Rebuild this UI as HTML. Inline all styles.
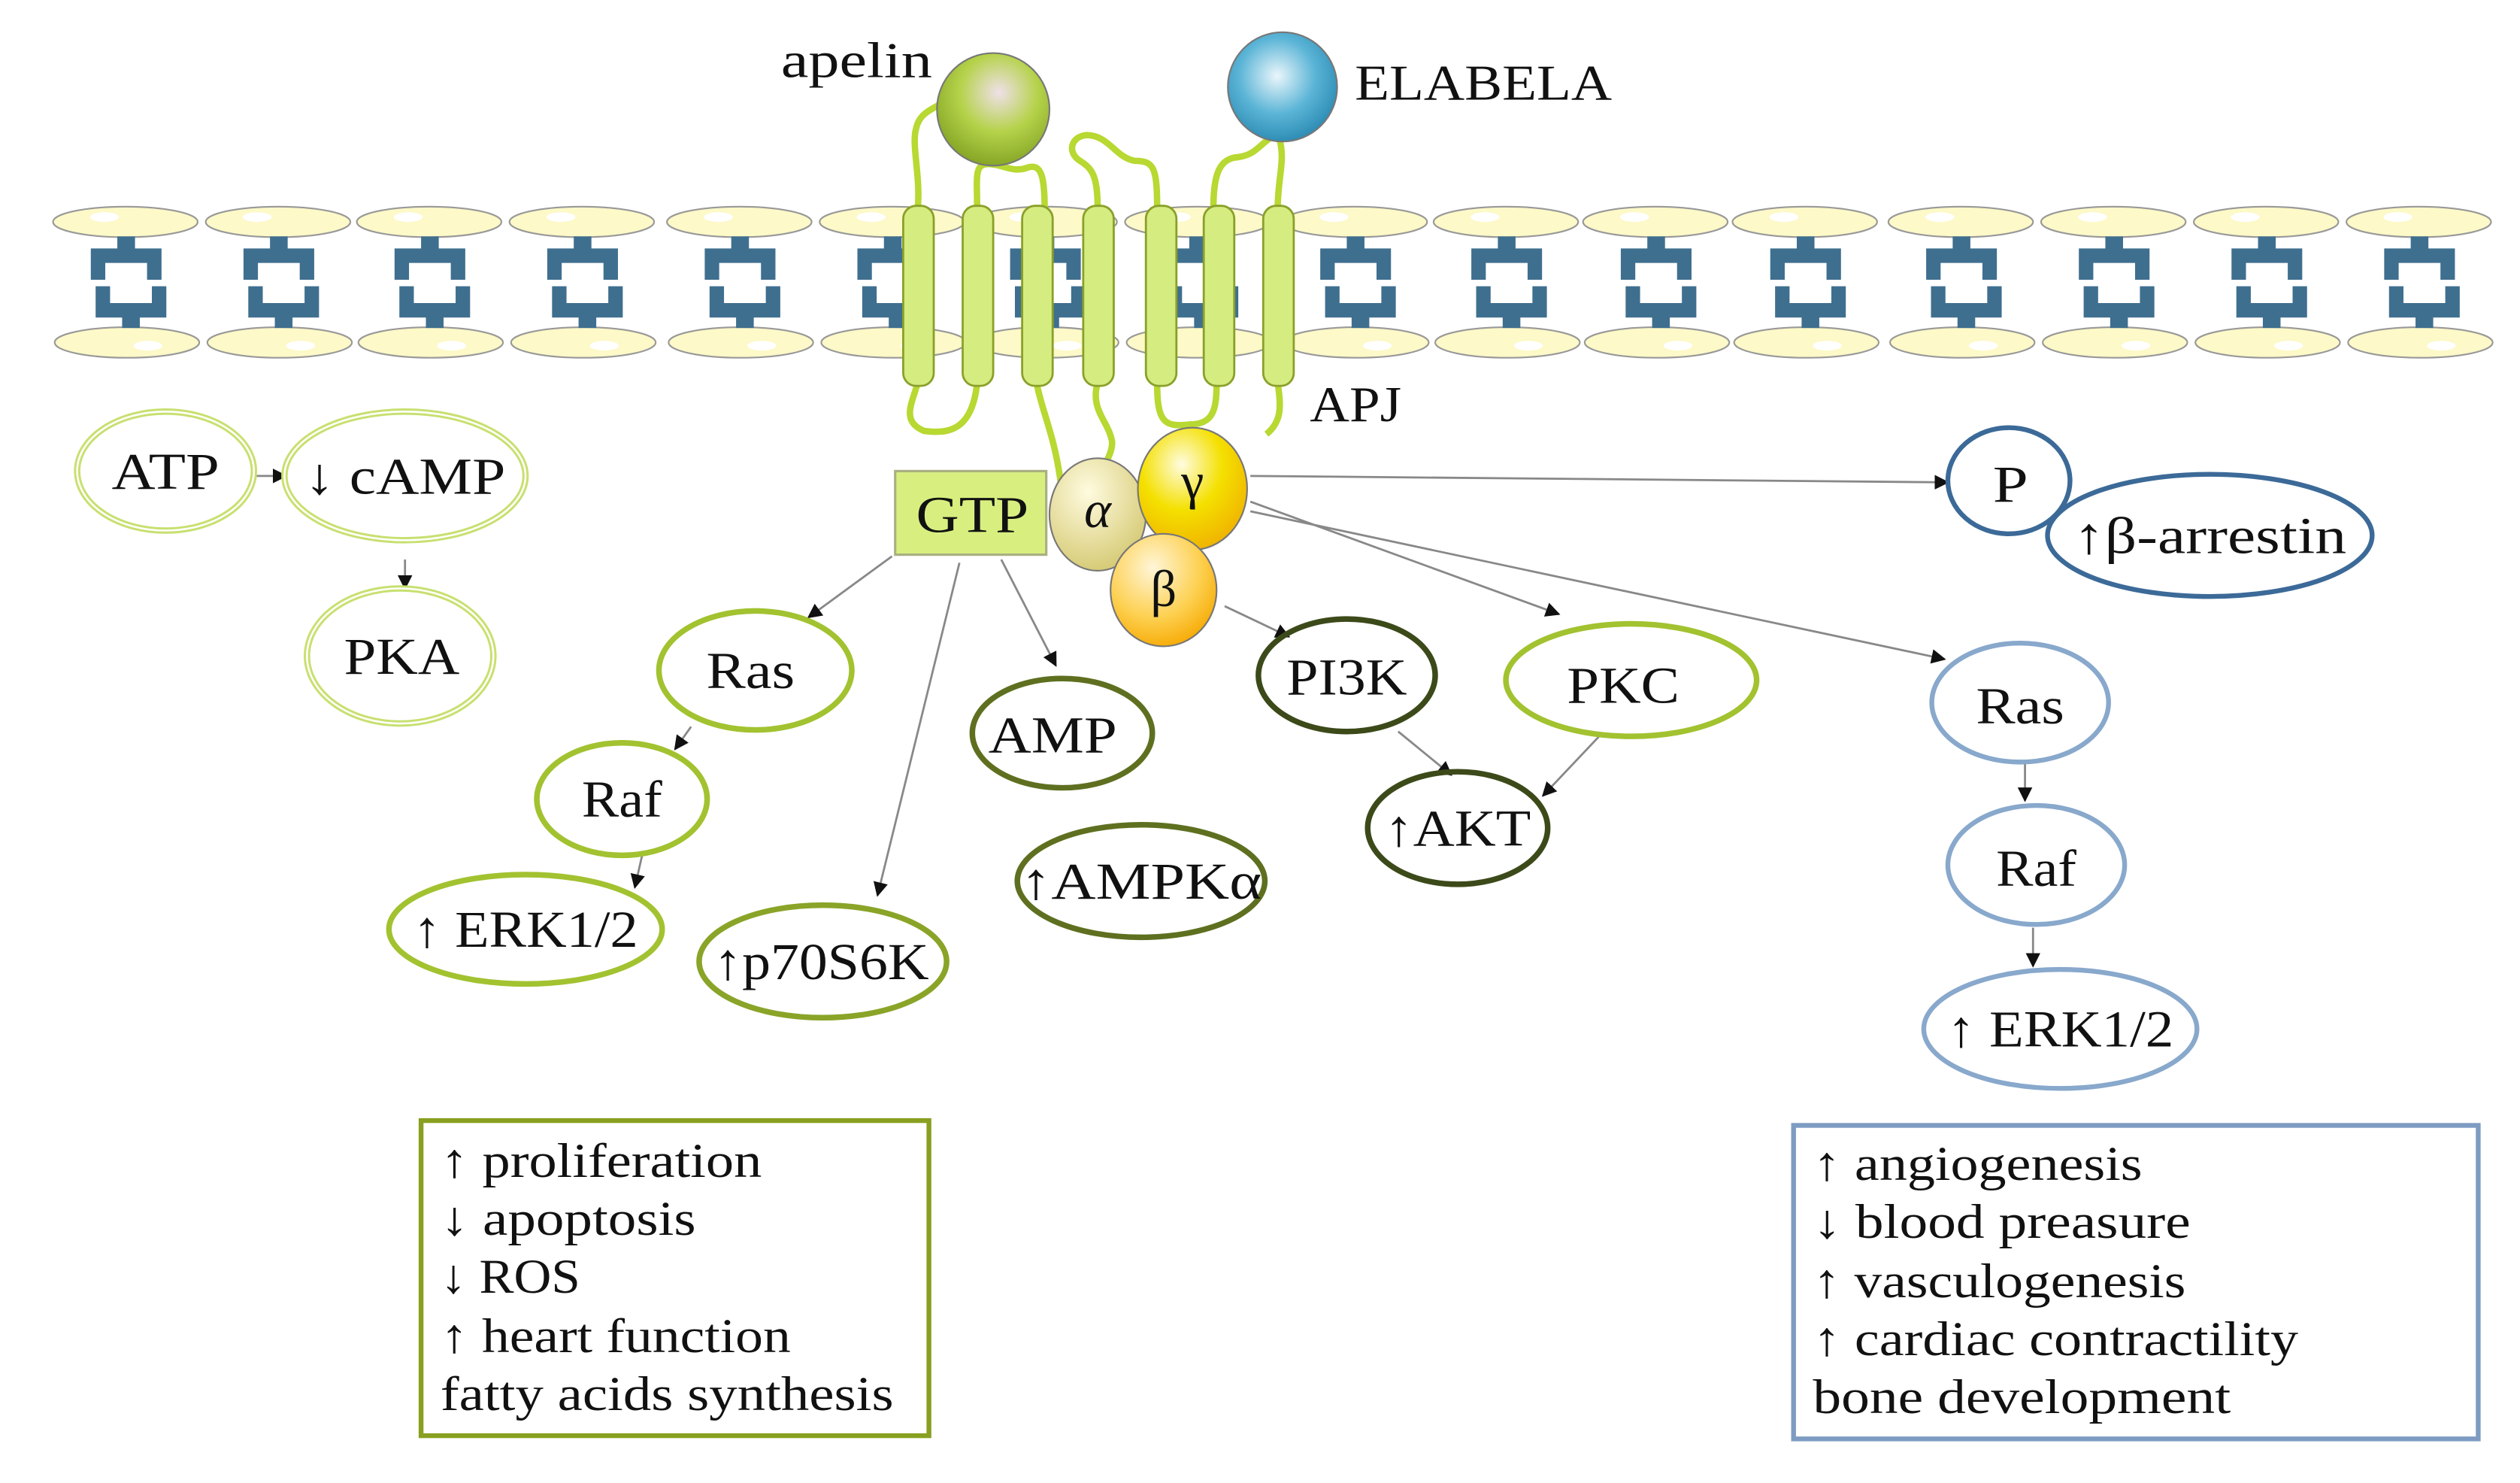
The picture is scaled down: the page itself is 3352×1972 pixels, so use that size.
<!DOCTYPE html>
<html><head><meta charset="utf-8"><style>
html,body{margin:0;padding:0;background:#fff;}
svg{display:block;}
text{font-family:"Liberation Serif",serif;fill:#111;}
</style></head><body>
<svg width="3352" height="1972" viewBox="0 0 1568 922.4" xmlns="http://www.w3.org/2000/svg">
<defs>
<marker id="ar" viewBox="0 0 10 10" refX="9" refY="5" markerWidth="7" markerHeight="7" orient="auto"><path d="M0,0 L10,5 L0,10 z" fill="#111"/></marker>
<radialGradient id="gApe" cx="0.55" cy="0.35" r="0.7"><stop offset="0" stop-color="#efe0e8"/><stop offset="0.5" stop-color="#b5d24a"/><stop offset="1" stop-color="#7fa020"/></radialGradient>
<radialGradient id="gEla" cx="0.45" cy="0.4" r="0.7"><stop offset="0" stop-color="#eaf6fb"/><stop offset="0.5" stop-color="#5ab4d6"/><stop offset="1" stop-color="#1e7ea8"/></radialGradient>
<radialGradient id="gA" cx="0.4" cy="0.3" r="0.75"><stop offset="0" stop-color="#fffbe0"/><stop offset="1" stop-color="#d4c870"/></radialGradient>
<radialGradient id="gG" cx="0.4" cy="0.3" r="0.75"><stop offset="0" stop-color="#fffce0"/><stop offset="0.5" stop-color="#f4e000"/><stop offset="1" stop-color="#f0b000"/></radialGradient>
<radialGradient id="gB" cx="0.4" cy="0.3" r="0.75"><stop offset="0" stop-color="#fff6d8"/><stop offset="0.6" stop-color="#fdd050"/><stop offset="1" stop-color="#f6a800"/></radialGradient>
<g id="lip">
<ellipse cx="0" cy="138" rx="45" ry="9.5" fill="#fdf9c8" stroke="#999" stroke-width="1"/>
<ellipse cx="-13" cy="135" rx="9" ry="3" fill="#fff"/>
<ellipse cx="1" cy="213" rx="45" ry="9.5" fill="#fdf9c8" stroke="#999" stroke-width="1"/>
<ellipse cx="14" cy="215" rx="9" ry="3" fill="#fff"/>
<rect x="-5" y="147" width="11" height="10" fill="#3f6f8f"/>
<path d="M-17,174 V159 H18 V174" fill="none" stroke="#3f6f8f" stroke-width="9"/>
<path d="M-14,178 V193 H21 V178" fill="none" stroke="#3f6f8f" stroke-width="9"/>
<rect x="-2" y="193" width="11" height="11" fill="#3f6f8f"/>
</g>
</defs>
<!-- membrane -->
<use href="#lip" x="78"/><use href="#lip" x="173"/><use href="#lip" x="267"/><use href="#lip" x="362"/><use href="#lip" x="460"/><use href="#lip" x="555"/><use href="#lip" x="650"/><use href="#lip" x="745"/><use href="#lip" x="843"/><use href="#lip" x="937"/><use href="#lip" x="1030"/><use href="#lip" x="1123"/><use href="#lip" x="1220"/><use href="#lip" x="1315"/><use href="#lip" x="1410"/><use href="#lip" x="1505"/>
<!-- receptor loops -->
<g fill="none" stroke="#b8d832" stroke-width="4">
<path d="M571,130 C573,110 567,90 570,80 C572,70 580,68 590,62"/>
<path d="M608,130 C608,110 606,102 615,102 C624,102 630,108 640,104 C648,102 650,110 650,130"/>
<path d="M683,130 C683,110 680,105 672,100 C664,95 666,85 676,84 C690,84 694,98 706,100 C718,100 720,104 720,130"/>
<path d="M755,130 C755,110 758,100 768,98 C780,97 782,92 790,86"/>
<path d="M795,130 C795,110 800,100 796,86"/>
<path d="M571,238 C568,250 560,262 575,268 C590,270 605,268 608,238"/>
<path d="M645,238 C648,255 656,270 660,300"/>
<path d="M683,238 C678,255 690,262 692,275 C692,285 684,290 686,300"/>
<path d="M720,238 C720,262 724,266 740,264 C755,264 757,255 757,238"/>
<path d="M795,238 C797,252 798,262 788,270"/>
</g>
<g fill="#d4ec80" stroke="#8aa02a" stroke-width="1.3">
<rect x="562" y="128" width="19" height="112" rx="8"/>
<rect x="599" y="128" width="19" height="112" rx="8"/>
<rect x="636" y="128" width="19" height="112" rx="8"/>
<rect x="674" y="128" width="19" height="112" rx="8"/>
<rect x="713" y="128" width="19" height="112" rx="8"/>
<rect x="749" y="128" width="19" height="112" rx="8"/>
<rect x="786" y="128" width="19" height="112" rx="8"/>
</g>
<circle cx="618" cy="68" r="35" fill="url(#gApe)" stroke="#777" stroke-width="1"/>
<circle cx="798" cy="54" r="34" fill="url(#gEla)" stroke="#777" stroke-width="1"/>
<text x="486" y="48" font-size="31" textLength="94" lengthAdjust="spacingAndGlyphs">apelin</text>
<text x="843" y="62" font-size="31" textLength="160" lengthAdjust="spacingAndGlyphs">ELABELA</text>
<text x="815" y="262" font-size="31" textLength="57" lengthAdjust="spacingAndGlyphs">APJ</text>
<!-- G protein -->
<rect x="557" y="293" width="94" height="52" fill="#d8ef80" stroke="#aab080" stroke-width="1.5"/>
<text x="605" y="331" font-size="32" text-anchor="middle" textLength="70" lengthAdjust="spacingAndGlyphs">GTP</text>
<ellipse cx="683" cy="320" rx="30" ry="35" fill="url(#gA)" stroke="#777"/>
<ellipse cx="742" cy="304" rx="34" ry="38" fill="url(#gG)" stroke="#777"/>
<ellipse cx="724" cy="367" rx="33" ry="35" fill="url(#gB)" stroke="#777"/>
<text x="683" y="328" font-size="32" text-anchor="middle" font-style="italic">α</text>
<text x="742" y="310" font-size="32" text-anchor="middle">γ</text>
<text x="724" y="377" font-size="32" text-anchor="middle">β</text>
<!-- arrows -->
<g stroke="#888" stroke-width="1.3" fill="none" marker-end="url(#ar)">
<line x1="157" y1="296" x2="178" y2="296"/>
<line x1="252" y1="348" x2="252" y2="366"/>
<line x1="555" y1="346" x2="503" y2="384"/>
<line x1="597" y1="350" x2="546" y2="557"/>
<line x1="623" y1="348" x2="657" y2="414"/>
<line x1="778" y1="296" x2="1212" y2="300"/>
<line x1="778" y1="312" x2="970" y2="382"/>
<line x1="778" y1="318" x2="1210" y2="410"/>
<line x1="762" y1="377" x2="802" y2="396"/>
<line x1="870" y1="455" x2="903" y2="482"/>
<line x1="995" y1="458" x2="960" y2="495"/>
<line x1="430" y1="452" x2="420" y2="466"/>
<line x1="400" y1="530" x2="395" y2="552"/>
<line x1="1260" y1="475" x2="1260" y2="498"/>
<line x1="1265" y1="577" x2="1265" y2="601"/>
</g>
<!-- nodes -->
<g fill="none">
<ellipse cx="103" cy="293" rx="55" ry="37" stroke="#c8e070" stroke-width="4"/><ellipse cx="103" cy="293" rx="55" ry="37" stroke="#fff" stroke-width="1.2"/>
<ellipse cx="252" cy="296" rx="75" ry="40" stroke="#c8e070" stroke-width="4"/><ellipse cx="252" cy="296" rx="75" ry="40" stroke="#fff" stroke-width="1.2"/>
<ellipse cx="249" cy="408" rx="58" ry="42" stroke="#c8e070" stroke-width="4"/><ellipse cx="249" cy="408" rx="58" ry="42" stroke="#fff" stroke-width="1.2"/>
<ellipse cx="470" cy="417" rx="60" ry="37" stroke="#a2c230" stroke-width="3.5"/>
<ellipse cx="387" cy="497" rx="53" ry="35" stroke="#a2c230" stroke-width="3.5"/>
<ellipse cx="327" cy="578" rx="85" ry="34" stroke="#a2c230" stroke-width="3.5"/>
<ellipse cx="512" cy="598" rx="77" ry="35" stroke="#8aa428" stroke-width="3.5"/>
<ellipse cx="661" cy="456" rx="56" ry="34" stroke="#5e7020" stroke-width="3.5"/>
<ellipse cx="710" cy="548" rx="77" ry="35" stroke="#5e7020" stroke-width="3.5"/>
<ellipse cx="838" cy="420" rx="55" ry="35" stroke="#3c4a1a" stroke-width="3.5"/>
<ellipse cx="1015" cy="423" rx="78" ry="35" stroke="#a2c230" stroke-width="3.5"/>
<ellipse cx="907" cy="515" rx="56" ry="35" stroke="#3c4a1a" stroke-width="3.5"/>
<ellipse cx="1250" cy="299" rx="38" ry="33" stroke="#3c6a98" stroke-width="3"/>
<ellipse cx="1375" cy="333" rx="101" ry="38" stroke="#3c6a98" stroke-width="3"/>
<ellipse cx="1257" cy="437" rx="55" ry="37" stroke="#88a8cc" stroke-width="3"/>
<ellipse cx="1267" cy="538" rx="55" ry="37" stroke="#88a8cc" stroke-width="3"/>
<ellipse cx="1282" cy="640" rx="85" ry="37" stroke="#88a8cc" stroke-width="3"/>
</g>
<g font-size="32" text-anchor="middle">
<text x="103" y="304" textLength="67" lengthAdjust="spacingAndGlyphs">ATP</text>
<text x="252" y="307" textLength="125" lengthAdjust="spacingAndGlyphs">↓ cAMP</text>
<text x="250" y="419" textLength="72" lengthAdjust="spacingAndGlyphs">PKA</text>
<text x="467" y="428" textLength="55" lengthAdjust="spacingAndGlyphs">Ras</text>
<text x="387" y="508" textLength="50" lengthAdjust="spacingAndGlyphs">Raf</text>
<text x="327" y="589" textLength="140" lengthAdjust="spacingAndGlyphs">↑ ERK1/2</text>
<text x="511" y="609" textLength="134" lengthAdjust="spacingAndGlyphs">↑p70S6K</text>
<text x="655" y="468" textLength="80" lengthAdjust="spacingAndGlyphs">AMP</text>
<text x="710" y="559" textLength="150" lengthAdjust="spacingAndGlyphs">↑AMPKα</text>
<text x="838" y="432" textLength="75" lengthAdjust="spacingAndGlyphs">PI3K</text>
<text x="1010" y="437" textLength="70" lengthAdjust="spacingAndGlyphs">PKC</text>
<text x="907" y="526" textLength="91" lengthAdjust="spacingAndGlyphs">↑AKT</text>
<text x="1251" y="312" textLength="22" lengthAdjust="spacingAndGlyphs">P</text>
<text x="1375" y="344" textLength="170" lengthAdjust="spacingAndGlyphs">↑β-arrestin</text>
<text x="1257" y="450" textLength="55" lengthAdjust="spacingAndGlyphs">Ras</text>
<text x="1267" y="551" textLength="50" lengthAdjust="spacingAndGlyphs">Raf</text>
<text x="1282" y="651" textLength="141" lengthAdjust="spacingAndGlyphs">↑ ERK1/2</text>
</g>
<!-- boxes -->
<rect x="262" y="697" width="316" height="196" fill="none" stroke="#88a020" stroke-width="3"/>
<g font-size="30">
<text x="274" y="732" textLength="200" lengthAdjust="spacingAndGlyphs">↑ proliferation</text>
<text x="274" y="768" textLength="159" lengthAdjust="spacingAndGlyphs">↓ apoptosis</text>
<text x="274" y="804" textLength="87" lengthAdjust="spacingAndGlyphs">↓ ROS</text>
<text x="274" y="841" textLength="218" lengthAdjust="spacingAndGlyphs">↑ heart function</text>
<text x="274" y="877" textLength="282" lengthAdjust="spacingAndGlyphs">fatty acids synthesis</text>
</g>
<rect x="1116" y="700" width="426" height="195" fill="none" stroke="#7e9cc2" stroke-width="3"/>
<g font-size="30">
<text x="1128" y="734" textLength="205" lengthAdjust="spacingAndGlyphs">↑ angiogenesis</text>
<text x="1128" y="770" textLength="235" lengthAdjust="spacingAndGlyphs">↓ blood preasure</text>
<text x="1128" y="807" textLength="232" lengthAdjust="spacingAndGlyphs">↑ vasculogenesis</text>
<text x="1128" y="843" textLength="302" lengthAdjust="spacingAndGlyphs">↑ cardiac contractility</text>
<text x="1128" y="879" textLength="260" lengthAdjust="spacingAndGlyphs">bone development</text>
</g>
</svg>
</body></html>
